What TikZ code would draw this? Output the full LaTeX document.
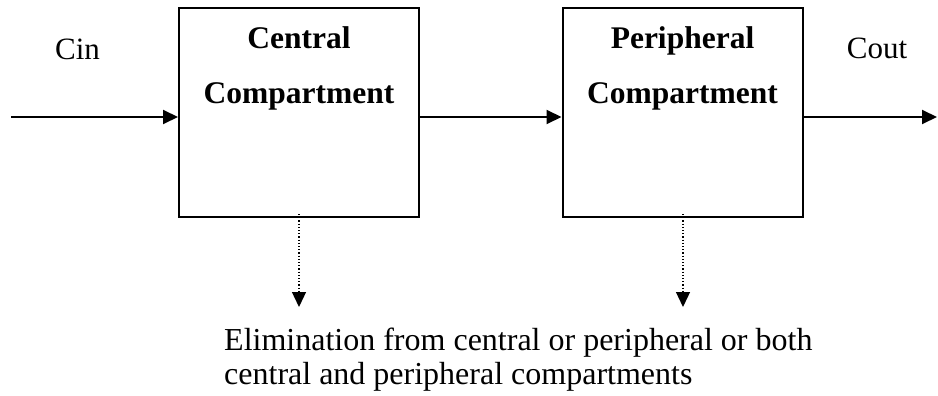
\documentclass[tikz,border=0pt]{standalone}
\usepackage{fontspec}
\setmainfont{Liberation Serif}
\usetikzlibrary{arrows.meta}
\tikzset{
  boxnode/.style={draw, line width=2pt, minimum width=240pt, minimum height=209pt, inner sep=0pt},
  arr/.style={line width=2pt, -{Triangle[length=15pt,width=14pt]}},
  elim/.style={line width=1.3pt, dash pattern=on 1.2pt off 2pt, -{Triangle[length=15pt,width=14pt]}},
  boldtxt/.style={font=\fontsize{31.5}{36}\selectfont\bfseries, inner sep=0pt, anchor=base},
  normtxt/.style={font=\fontsize{31}{35}\selectfont, inner sep=0pt},
  elimtxt/.style={font=\fontsize{32}{35}\selectfont, inner sep=0pt, anchor=base west},
}
\begin{document}
\begin{tikzpicture}[x=1pt,y=-1pt]
\useasboundingbox (0,0) rectangle (938,396);
\node[boxnode] (box1) at (299,112.5) {};
\node[boxnode] (box2) at (682.5,112.5) {};
\node[boldtxt] (c1) at (299,49) {Central};
\node[boldtxt] (c2) at (299,103) {Compartment};
\node[boldtxt] (p1) at (682.5,49) {Peripheral};
\node[boldtxt] (p2) at (682.5,103) {Compartment};
\node[normtxt, anchor=base] (cin) at (77.5,60) {Cin};
\node[normtxt, anchor=base] (cout) at (877,59) {Cout};
\coordinate (in) at (11,117);
\coordinate (out) at (937,117);
\draw[arr] (in) -- (in -| box1.west);
\draw[arr] (in -| box1.east) -- (in -| box2.west);
\draw[arr] (in -| box2.east) -- (out);
\coordinate (e1) at (299,307);
\coordinate (e2) at (683,307);
\draw[elim] ([yshift=4pt]box1.south) -- (e1);
\draw[elim] ([yshift=4pt]box2.south -| e2) -- (e2);
\node[elimtxt] (el1) at (224,350) {Elimination from central or peripheral or both};
\node[elimtxt] (el2) at (224,384) {central and peripheral compartments};
\end{tikzpicture}
\end{document}
